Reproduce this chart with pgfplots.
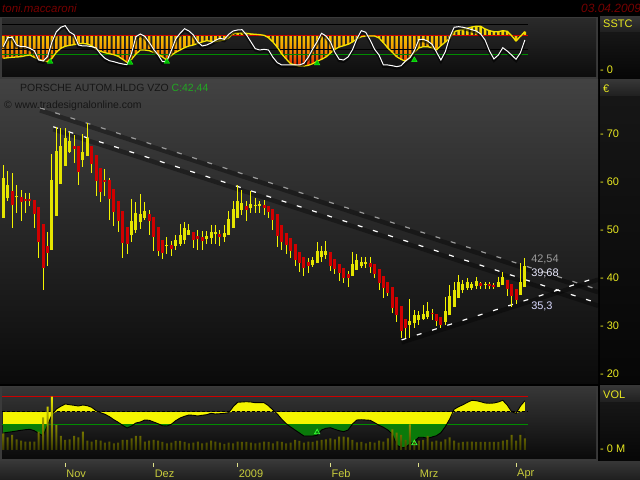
\documentclass[border=0pt]{standalone}
\usepackage{pgfplots}
\pgfplotsset{compat=1.18}
\usepackage{pgfplotstable}
\usepackage{fontspec}
\setmainfont{Liberation Sans}

\definecolor{kgelb}{HTML}{E4E400}
\definecolor{docht}{HTML}{F4F400}
\definecolor{krot}{HTML}{D00000}
\definecolor{achse}{HTML}{E8E820}
\definecolor{datum}{HTML}{C8CC3C}
\definecolor{titelrot}{HTML}{760000}
\definecolor{kopf}{HTML}{161616}
\definecolor{kgruen}{HTML}{22A822}
\definecolor{sgelb}{HTML}{F4E400}
\definecolor{sorange}{HTML}{F4A000}
\definecolor{srot}{HTML}{E82000}
\definecolor{vgelb}{HTML}{F4F400}
\definecolor{vgruen}{HTML}{0A7A0A}
\definecolor{vbar}{HTML}{E8E800}
\definecolor{rahmen}{HTML}{3A3A3A}
\definecolor{gA}{HTML}{424242}
\definecolor{gB}{HTML}{0A0A0A}
\definecolor{gC}{HTML}{2A2A2A}
\definecolor{gD}{HTML}{0C0C0C}
\definecolor{gE}{HTML}{363636}
\definecolor{gF}{HTML}{1E1E1E}
\definecolor{gG}{HTML}{161616}
\definecolor{gH}{HTML}{060606}
\definecolor{vdunkel}{HTML}{2A2A2A}
\definecolor{linie}{HTML}{9A9A9A}

\pgfplotsset{
  panel/.style={scale only axis, width=596bp, xmin=-0.3, xmax=134.55,
    anchor=south west, axis line style={draw=none}, xtick=\empty,
    major tick length=0pt, yticklabel pos=right,
    yticklabel style={text=achse, font=\fontsize{11}{13}\selectfont, anchor=west, inner sep=2bp}},
}

% Kerzen: Index, Open, High, Low, Close
\pgfplotstableread{
i o h l c
0 52.6 63.5 52.6 60.8
1 56.6 62.3 56.1 59.4
2 58.2 61.8 50.5 55.3
3 56.8 59.4 53.6 57.1
4 56.9 58.3 51.8 55.8
5 56.5 57.7 53.6 56.1
6 56.5 57.7 54.9 56.1
7 56.2 56.2 50.4 53.3
8 54.8 54.8 44.2 47.6
9 51.3 51.3 37.4 42.0
10 46.7 49.6 42.4 45.3
11 45.8 65.8 45.8 60.4
12 53.0 71.5 53.0 66.5
13 59.6 71.2 59.6 67.4
14 63.4 71.2 63.4 69.1
15 66.2 70.5 66.0 68.5
16 67.5 69.7 63.9 66.9
17 67.4 67.4 59.4 62.1
18 64.6 70.0 63.2 66.2
19 65.5 72.2 65.5 69.1
20 67.4 67.4 61.8 63.7
21 65.6 65.6 57.0 60.3
22 62.9 62.9 55.8 57.9
23 60.4 62.7 57.0 60.1
24 60.4 60.9 52.1 56.4
25 58.6 58.6 50.9 53.7
26 56.1 56.1 49.6 51.8
27 54.0 54.0 44.2 47.2
28 50.6 50.6 45.0 47.0
29 48.9 56.5 47.4 51.9
30 50.1 55.9 49.3 53.5
31 51.7 57.6 50.3 53.3
32 52.6 55.9 52.1 54.0
33 53.3 54.2 49.0 51.9
34 52.8 52.8 45.6 48.6
35 50.6 50.6 44.5 45.6
36 48.0 48.0 44.0 45.3
37 46.7 48.6 45.0 46.9
38 46.8 47.7 44.6 46.1
39 46.7 49.0 45.8 47.9
40 47.1 51.2 46.7 49.0
41 47.9 51.6 47.1 50.4
42 49.0 51.2 48.9 50.0
43 49.6 49.6 46.3 47.9
44 48.8 50.0 45.8 48.1
45 48.5 49.8 45.9 47.8
46 48.1 49.8 47.1 48.8
47 48.3 51.0 47.1 49.6
48 49.1 51.0 47.1 49.5
49 49.2 50.1 46.7 48.5
50 48.5 51.0 47.6 49.4
51 49.0 54.0 49.0 52.2
52 50.5 56.0 50.5 54.4
53 52.4 59.4 52.4 56.0
54 54.2 58.4 53.1 55.6
55 55.0 56.0 51.9 54.1
56 54.5 58.1 53.6 55.4
57 55.1 56.6 53.6 55.2
58 55.0 56.0 53.5 55.4
59 55.2 56.3 53.1 54.5
60 54.9 54.9 52.6 53.8
61 54.3 54.3 49.9 52.0
62 53.3 53.3 46.5 48.8
63 51.0 51.0 45.8 47.6
64 49.3 49.3 45.1 46.9
65 48.3 48.3 44.2 45.7
66 47.0 47.0 42.4 43.8
67 45.4 45.4 41.3 43.2
68 44.3 44.3 40.5 42.0
69 43.3 44.1 41.0 42.6
70 42.7 44.3 42.2 43.8
71 43.2 47.4 43.2 45.6
72 44.3 46.7 43.4 45.6
73 44.8 47.7 43.9 45.6
74 45.4 45.4 41.5 42.5
75 43.9 43.9 40.8 41.9
76 42.9 42.9 39.4 41.1
77 42.0 42.0 39.0 39.9
78 40.9 41.5 38.2 39.9
79 40.4 45.4 40.4 42.9
80 41.7 45.0 41.7 43.8
81 42.4 44.3 42.0 43.4
82 42.9 44.3 42.0 43.4
83 43.2 44.3 41.1 42.3
84 42.9 42.9 39.9 40.8
85 41.8 41.8 37.6 38.9
86 40.4 40.4 35.9 38.0
87 39.1 39.1 36.2 36.9
88 38.1 38.1 32.7 33.8
89 36.0 36.0 30.9 32.3
90 34.2 34.2 27.4 29.0
91 31.4 31.4 27.6 29.5
92 30.2 35.6 27.6 31.0
93 30.6 33.3 29.5 32.3
94 31.3 33.1 30.2 32.3
95 31.4 34.4 31.3 32.4
96 31.9 35.1 31.4 33.1
97 32.8 33.6 31.3 32.4
98 32.6 32.6 29.9 31.0
99 31.9 31.9 29.5 30.2
100 30.8 36.1 30.2 33.1
101 32.2 38.5 32.2 36.3
102 34.0 39.1 34.0 37.5
103 35.8 40.6 35.8 39.1
104 37.5 39.6 36.8 38.7
105 38.0 40.1 37.5 39.2
106 38.0 39.1 37.5 38.8
107 38.4 40.3 37.8 39.4
108 38.9 39.2 37.7 38.4
109 38.6 39.2 37.8 38.8
110 38.7 39.1 37.8 38.3
111 38.5 38.9 37.7 38.1
112 38.1 40.3 38.1 39.1
113 38.5 41.3 38.5 40.3
114 39.6 39.6 36.3 37.8
115 38.7 38.7 34.0 36.3
116 37.7 37.7 34.5 35.4
117 36.5 43.1 36.5 39.2
118 38.2 44.1 38.2 42.4
}\kerzen

% Koerper steigender Kerzen: unten, oben
\pgfplotstableread{
i lo hi
0 52.6 60.8
1 56.6 59.4
3 56.8 57.1
11 45.8 60.4
12 53.0 66.5
13 59.6 67.4
14 63.4 69.1
15 66.2 68.5
18 64.6 66.2
19 65.5 69.1
29 48.9 51.9
30 50.1 53.5
31 51.7 53.3
32 52.6 54.0
37 46.7 46.95
39 46.7 47.9
40 47.1 49.0
41 47.9 50.4
42 49.0 50.0
46 48.1 48.8
47 48.3 49.6
48 49.1 49.5
50 48.5 49.4
51 49.0 52.2
52 50.5 54.4
53 52.4 56.0
54 54.2 55.6
56 54.5 55.4
57 55.0 55.3
58 55.0 55.4
70 42.7 43.8
71 43.2 45.6
72 44.3 45.6
73 44.8 45.6
79 40.4 42.9
80 41.7 43.8
81 42.4 43.4
82 42.9 43.4
92 30.2 31.0
93 30.6 32.3
94 31.3 32.3
95 31.4 32.4
96 31.9 33.1
100 30.8 33.1
101 32.2 36.3
102 34.0 37.5
103 35.8 39.1
104 37.5 38.7
105 38.0 39.2
106 38.0 38.8
107 38.4 39.4
109 38.6 38.85
112 38.1 39.1
113 38.5 40.3
117 36.5 39.2
118 38.2 42.4
}\koerperauf

% Koerper fallender Kerzen: unten, oben
\pgfplotstableread{
i lo hi
2 55.3 58.2
4 55.8 56.9
5 56.1 56.5
6 56.1 56.5
7 53.3 56.2
8 47.6 54.8
9 42.0 51.3
10 45.3 46.7
16 66.9 67.5
17 62.1 67.4
20 63.7 67.4
21 60.3 65.6
22 57.9 62.9
23 60.1 60.4
24 56.4 60.4
25 53.7 58.6
26 51.8 56.1
27 47.2 54.0
28 47.0 50.6
33 51.9 53.3
34 48.6 52.8
35 45.6 50.6
36 45.3 48.0
38 46.1 46.8
43 47.9 49.6
44 48.1 48.8
45 47.8 48.5
49 48.5 49.2
55 54.1 55.0
59 54.5 55.2
60 53.8 54.9
61 52.0 54.3
62 48.8 53.3
63 47.6 51.0
64 46.9 49.3
65 45.7 48.3
66 43.8 47.0
67 43.2 45.4
68 42.0 44.3
69 42.6 43.3
74 42.5 45.4
75 41.9 43.9
76 41.1 42.9
77 39.9 42.0
78 39.9 40.9
83 42.3 43.2
84 40.8 42.9
85 38.9 41.8
86 38.0 40.4
87 36.9 39.1
88 33.8 38.1
89 32.3 36.0
90 29.0 34.2
91 29.5 31.4
97 32.4 32.8
98 31.0 32.6
99 30.2 31.9
108 38.4 38.9
110 38.3 38.7
111 38.1 38.5
114 37.8 39.6
115 36.3 38.7
116 35.4 37.7
}\koerperab

% SSTC: c = Histogrammkurve, w = weisse Linie (0 = rote Linie)
\pgfplotstableread{
i c w
0 -22.6 -11.0
1 -22.0 -2.0
2 -21.6 -1.6
3 -21.3 -9.3
4 -21.0 -11.0
5 -20.0 -11.0
6 -19.3 -12.6
7 -21.6 -15.0
8 -23.6 -24.3
9 -25.0 -25.3
10 -26.0 -21.0
11 -22.6 -6.3
12 -16.6 4.0
13 -12.6 8.4
14 -10.6 10.0
15 -9.6 3.7
16 -9.0 1.0
17 -8.0 -9.3
18 -7.6 -10.3
19 -8.3 -10.3
20 -10.0 -11.0
21 -13.6 -12.3
22 -15.6 -18.3
23 -17.0 -22.6
24 -18.0 -25.0
25 -19.0 -26.0
26 -20.6 -27.3
27 -23.6 -28.3
28 -26.6 -29.0
29 -23.6 -17.6
30 -18.3 -1.0
31 -14.3 1.7
32 -14.3 -0.6
33 -15.0 -6.6
34 -16.6 -13.6
35 -18.6 -19.0
36 -21.3 -26.0
37 -24.3 -25.3
38 -19.6 -15.0
39 -16.6 -3.3
40 -14.3 2.4
41 -12.0 7.0
42 -10.3 4.7
43 -9.3 0.7
44 -7.6 -6.3
45 -6.3 -10.3
46 -5.0 -9.3
47 -5.6 -7.3
48 -6.0 -4.6
49 -5.0 -2.6
50 -4.3 -3.6
51 -2.0 1.4
52 2.4 4.7
53 2.7 5.7
54 2.7 6.0
55 2.4 1.0
56 1.7 -6.0
57 1.4 -13.0
58 1.0 -14.3
59 0.4 -13.6
60 -2.0 -14.3
61 -6.3 -21.6
62 -11.6 -27.0
63 -18.3 -29.3
64 -23.3 -29.3
65 -28.0 -29.3
66 -29.3 -29.3
67 -30.6 -29.3
68 -30.3 -27.6
69 -29.6 -21.6
70 -28.0 -13.3
71 -25.6 -6.0
72 -23.6 2.4
73 -21.3 -0.3
74 -17.3 -6.0
75 -13.6 -16.6
76 -11.3 -23.6
77 -10.0 -24.3
78 -8.6 -21.3
79 -6.3 -14.0
80 -3.3 -3.0
81 -1.0 5.0
82 -0.3 3.4
83 -0.3 -4.3
84 -0.3 -13.6
85 -2.3 -19.3
86 -7.0 -29.3
87 -12.3 -29.3
88 -16.6 -30.0
89 -21.0 -31.0
90 -23.6 -30.0
91 -25.6 -25.3
92 -21.6 -22.0
93 -16.6 -15.0
94 -12.3 -4.0
95 -11.0 -3.6
96 -11.0 -5.3
97 -12.0 -8.6
98 -14.3 -16.3
99 -10.0 -24.3
100 -6.3 -16.0
101 -2.6 -1.3
102 4.0 8.4
103 5.4 9.0
104 6.4 8.4
105 7.4 7.4
106 8.7 6.0
107 9.4 4.7
108 9.4 1.7
109 6.7 -4.3
110 5.0 -15.3
111 4.0 -23.3
112 4.0 -19.3
113 5.0 -12.0
114 4.4 -15.3
115 0.0 -19.3
116 -5.3 -23.6
117 -0.6 -17.0
118 4.0 -4.3
}\sstctab

% Volumen: o = Oszillator, m = Oszillator bis zur gestrichelten Linie, v = Umsatz
\pgfplotstableread{
i o m v
0 17.0 17.0 16.7
1 17.7 17.7 12.7
2 18.3 18.3 15.0
3 19.0 19.0 10.7
4 19.7 19.7 9.3
5 20.3 20.3 8.3
6 20.7 20.7 8.3
7 19.3 19.3 8.3
8 16.7 16.7 18.3
9 14.0 14.0 32.7
10 25.0 25.0 43.3
11 35.3 35.3 53.3
12 41.0 38.3 25.0
13 43.7 38.3 14.0
14 46.0 38.3 10.0
15 45.3 38.3 10.7
16 44.7 38.3 14.0
17 44.0 38.3 12.7
18 45.0 38.3 18.3
19 44.3 38.3 9.3
20 42.7 38.3 8.3
21 39.3 38.3 10.0
22 37.3 37.3 9.3
23 35.7 35.7 7.3
24 33.3 33.3 8.3
25 30.3 30.3 6.7
26 27.7 27.7 7.3
27 24.7 24.7 10.0
28 22.0 22.0 10.0
29 24.0 24.0 11.7
30 27.0 27.0 14.0
31 28.0 28.0 14.0
32 30.0 30.0 8.3
33 29.7 29.7 9.3
34 28.0 28.0 10.0
35 26.3 26.3 9.3
36 24.3 24.3 8.0
37 24.0 24.0 6.7
38 25.7 25.7 7.3
39 29.3 29.3 9.0
40 32.0 32.0 9.0
41 33.7 33.7 8.0
42 35.0 35.0 6.7
43 34.7 34.7 7.3
44 34.0 34.0 8.3
45 34.7 34.7 6.7
46 35.3 35.3 7.3
47 36.7 36.7 9.3
48 36.0 36.0 8.3
49 36.3 36.3 7.3
50 36.7 36.7 6.0
51 37.3 37.3 7.3
52 43.3 38.3 6.7
53 47.7 38.3 8.3
54 48.0 38.3 8.0
55 48.3 38.3 8.0
56 48.0 38.3 7.3
57 47.3 38.3 6.7
58 47.3 38.3 7.3
59 47.3 38.3 8.3
60 44.3 38.3 8.0
61 40.0 38.3 6.7
62 36.0 36.0 8.7
63 30.7 30.7 8.0
64 26.3 26.3 6.7
65 23.0 23.0 7.3
66 20.0 20.0 10.0
67 17.0 17.0 9.0
68 14.0 14.0 7.3
69 14.0 14.0 8.3
70 14.0 14.0 8.0
71 14.7 14.7 9.3
72 20.0 20.0 10.0
73 21.7 21.7 10.7
74 22.3 22.3 11.7
75 20.7 20.7 10.7
76 19.3 19.3 13.3
77 18.3 18.3 13.3
78 20.0 20.0 12.7
79 26.0 26.0 10.0
80 30.0 30.0 7.7
81 30.3 30.3 8.0
82 30.0 30.0 6.7
83 29.7 29.7 8.0
84 27.3 27.3 7.3
85 24.7 24.7 9.3
86 22.7 22.7 8.3
87 20.0 20.0 11.7
88 16.0 16.0 20.7
89 5.0 5.0 17.3
90 2.3 2.3 15.0
91 2.7 2.7 10.0
92 6.0 6.0 25.7
93 8.7 8.7 10.0
94 12.7 12.7 9.3
95 12.7 12.7 10.0
96 11.7 11.7 14.0
97 13.0 13.0 8.3
98 14.3 14.3 9.3
99 17.3 17.3 8.3
100 23.3 23.3 10.7
101 31.0 31.0 12.7
102 40.7 38.3 9.3
103 43.3 38.3 7.3
104 45.3 38.3 8.0
105 47.7 38.3 8.3
106 49.7 38.3 8.3
107 49.3 38.3 8.0
108 48.3 38.3 8.0
109 47.0 38.3 8.0
110 46.7 38.3 8.0
111 47.0 38.3 8.0
112 48.0 38.3 8.0
113 49.7 38.3 9.3
114 45.0 38.3 10.0
115 38.3 38.3 15.0
116 36.7 36.7 9.3
117 44.0 38.3 15.0
118 49.3 38.3 11.7
}\voltab

\begin{document}
\begin{tikzpicture}[x=1bp,y=1bp]
\useasboundingbox (0,0) rectangle (640,480);
% Hintergrund und Felder
\fill[black] (0,0) rectangle (640,480);
\fill[rahmen] (0,401) rectangle (598,463);
\shade[top color=gC, bottom color=gD] (2,403) rectangle (596,461);
\shade[top color=gE, bottom color=gF] (600,447) rectangle (640,463);
\shade[top color=gG, bottom color=gH] (600,401) rectangle (640,447);
\shade[top color=gA, bottom color=gB] (0,96) rectangle (598,400);
\shade[top color=gE, bottom color=gF] (600,383) rectangle (640,400);
\shade[top color=gG, bottom color=gH] (600,96) rectangle (640,383);
\fill[rahmen] (0,19) rectangle (598,94);
\shade[top color=gE, bottom color=gB] (2,21) rectangle (596,92);
\shade[top color=gE, bottom color=gF] (600,77) rectangle (640,94);
\shade[top color=gG, bottom color=gH] (600,19) rectangle (640,77);
\shade[top color=gE, bottom color=gF] (0,0) rectangle (640,18);

% SSTC
\begin{axis}[panel, at={(2bp,402bp)}, height=60bp, ymin=-42.3, ymax=17.7,
  ytick={-34.3}, yticklabels={- 0}]
  \addplot[ybar, bar width=2.6bp, bar shift=0pt, draw=none,
    top color=sgelb, bottom color=srot, middle color=sorange] table[x=i,y=c] {\sstctab};
  \addplot[black, line width=1bp] coordinates {(-0.3,10.7) (118.6,10.7)};
  \addplot[red!80!black, line width=1bp] coordinates {(-0.3,0) (118.6,0)};
  \addplot[black, line width=1bp] coordinates {(-0.3,-14.3) (118.6,-14.3)};
  \addplot[green!55!black, line width=1bp] coordinates {(-0.3,-19.3) (118.6,-19.3)};
  \addplot[sgelb, line width=1.3bp] table[x=i,y=c] {\sstctab};
  \addplot[black, opacity=0.6, line width=2.8bp, yshift=-1.5bp] table[x=i,y=w] {\sstctab};
  \addplot[white, line width=1bp] table[x=i,y=w] {\sstctab};
  \addplot[only marks, mark=triangle*, mark size=3.2bp,
    mark options={fill=green!75!black, draw=green!90!white}]
    coordinates {(10.6,-26) (28.7,-27) (37,-26) (71,-27.6) (93,-24.3)};
\end{axis}

% Kurs
\begin{axis}[panel, at={(2bp,96bp)}, height=304bp, ymin=17.92, ymax=81.25,
  ytick={20,30,40,50,60,70}, yticklabels={- 20,- 30,- 40,- 50,- 60,- 70}]
  % Trendlinien mit Schatten
  \addplot[black, opacity=0.35, line width=4.5bp, yshift=-2.5bp] coordinates {(8.3,75.45) (134.6,37.56)};
  \addplot[black, opacity=0.35, line width=4.5bp, yshift=-2.5bp] coordinates {(11.3,71.5) (134.6,34.73)};
  \addplot[black, opacity=0.35, line width=4.5bp, yshift=-2.5bp] coordinates {(90.1,27.1) (134.6,40.18)};
  \addplot[linie, line width=1.2bp, dash pattern=on 5bp off 11bp] coordinates {(8.3,75.45) (134.6,37.56)};
  \addplot[white, line width=1.2bp, dash pattern=on 5bp off 11bp] coordinates {(11.3,71.5) (134.6,34.73)};
  \addplot[white, line width=1.2bp, dash pattern=on 5bp off 11bp] coordinates {(90.1,27.1) (134.6,40.18)};
  % Dochte
  \addplot[draw=none, mark=none, error bars/.cd, y dir=both, y explicit,
    error mark=none, error bar style={draw=docht, line width=1bp}]
    table[x=i, y=c, y error plus expr=\thisrow{h}-\thisrow{c},
      y error minus expr=\thisrow{c}-\thisrow{l}] {\kerzen};
  % Koerper
  \addplot[draw=none, mark=none, error bars/.cd, y dir=plus, y explicit,
    error mark=none, error bar style={draw=kgelb, line width=3bp}]
    table[x=i, y=lo, y error plus expr=\thisrow{hi}-\thisrow{lo}] {\koerperauf};
  \addplot[draw=none, mark=none, error bars/.cd, y dir=plus, y explicit,
    error mark=none, error bar style={draw=krot, line width=3bp}]
    table[x=i, y=lo, y error plus expr=\thisrow{hi}-\thisrow{lo}] {\koerperab};
  \node[anchor=west, text=linie, font=\fontsize{11}{13}\selectfont, inner sep=0]
    at (axis cs:119.4,43.96) {42,54};
  \node[anchor=west, text=blue!8!white, font=\fontsize{11}{13}\selectfont, inner sep=0]
    at (axis cs:119.4,41.0) {39,68};
  \node[anchor=west, text=blue!15!white, font=\fontsize{11}{13}\selectfont, inner sep=0]
    at (axis cs:119.4,34.0) {35,3};
\end{axis}

% Volumen
\begin{axis}[panel, at={(2bp,20bp)}, height=73bp, ymin=-10, ymax=63,
  ytick={1}, yticklabels={- 0 M}]
  \addplot[fill=vgelb, draw=none] table[x=i,y=o] {\voltab} \closedcycle;
  \addplot[fill=vgelb, draw=none] coordinates {(0,25) (118,25) (118,38.3) (0,38.3)};
  \addplot[fill=vgruen, draw=none] coordinates {(0,0) (118,0) (118,25) (0,25)};
  \addplot[draw=none, top color=vdunkel, bottom color=gB] table[x=i,y=m] {\voltab} \closedcycle;
  \addplot[red!80!black, line width=1bp] coordinates {(-0.3,53.3) (118.6,53.3)};
  \addplot[black, line width=1bp, dash pattern=on 3bp off 2bp] coordinates {(-0.3,38.3) (118.6,38.3)};
  \addplot[green!55!black, line width=1bp] coordinates {(-0.3,25) (118.6,25)};
  \addplot[black, line width=0.9bp] table[x=i,y=o] {\voltab};
  \addplot[ybar, bar width=2bp, bar shift=0pt, draw=none,
    top color=vbar, bottom color=vbar!25!black] table[x=i,y=v] {\voltab};
  \addplot[only marks, mark=triangle, mark size=3bp, mark options={draw=green!80!white, line width=0.8bp}]
    coordinates {(71,17.7) (93,6.7)};
\end{axis}

% Datumsleiste
\begin{axis}[scale only axis, width=596bp, height=17bp, at={(2bp,0bp)}, anchor=south west,
  xmin=-0.3, xmax=134.55, ymin=0, ymax=17, axis line style={draw=none}, ytick=\empty,
  xtick={14,34,53,74,94,116}, xticklabels={Nov,Dez,2009,Feb,Mrz,Apr},
  xtick pos=upper, tick align=inside, major tick length=4bp,
  xtick style={draw=datum!60!white, line width=0.8bp},
  xticklabel pos=lower, xticklabel style={text=datum, font=\fontsize{11}{13}\selectfont,
    anchor=west, yshift=6bp, inner sep=1bp}]
  \addplot[draw=none] coordinates {(0,0)};
\end{axis}

% Texte
\node[anchor=west, inner sep=0, text=titelrot, font=\itshape\fontsize{11.5}{13}\selectfont] at (2,472) {toni.maccaroni};
\node[anchor=west, inner sep=0, text=titelrot, font=\itshape\fontsize{12}{13}\selectfont] at (581,472) {03.04.2009};
\node[anchor=west, inner sep=0, text=kopf, font=\fontsize{10.5}{12}\selectfont] at (20,391)
  {PORSCHE AUTOM.HLDG VZO \textcolor{kgruen}{C:42,44}};
\node[anchor=west, inner sep=0, text=kopf, font=\fontsize{10.5}{12}\selectfont] at (4,374)
  {\textcopyright\ www.tradesignalonline.com};
\node[anchor=west, inner sep=0, text=achse, font=\fontsize{11}{13}\selectfont] at (603,456) {SSTC};
\node[anchor=west, inner sep=0, text=achse, font=\fontsize{11}{13}\selectfont] at (603,391) {€};
\node[anchor=west, inner sep=0, text=achse, font=\fontsize{11}{13}\selectfont] at (603,85) {VOL};
\end{tikzpicture}
\end{document}
